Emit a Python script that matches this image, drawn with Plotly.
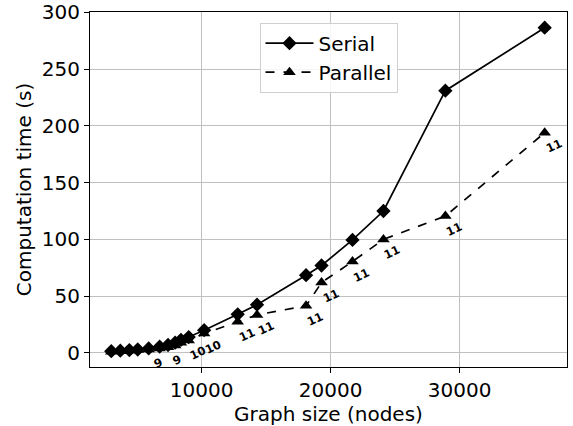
import plotly.graph_objects as go

graph_size = [3000, 3700, 4400, 5050, 5900, 6750, 7400, 7950, 8400, 9000, 10200,
              12800, 14300, 18100, 19300, 21700, 24100, 28900, 36600]
serial_time = [1.5, 2, 2.5, 3, 4, 5.5, 7, 9, 11.5, 14, 20,
               34, 42.5, 68.5, 77, 99.5, 125, 231, 286.5]
parallel_time = [1, 1.5, 2, 2.5, 3, 4, 5, 6.5, 9, 11, 17,
                 27.5, 33.5, 41.5, 62, 80.5, 100, 120.5, 194]
labels = ["", "", "", "", "9", "", "9", "", "", "10", "10",
          "11", "11", "11", "11", "11", "11", "11", "11"]
x_ticks = [10000, 20000, 30000]
x_ticktext = ["10000", "20000", "30000"]
y_ticks = [0, 50, 100, 150, 200, 250, 300]

FONT = "DejaVu Sans"

fig = go.Figure()
fig.add_trace(go.Scatter(
    x=graph_size, y=serial_time, name="Serial", mode="lines+markers",
    line=dict(color="black", width=1.7, dash="solid"),
    marker=dict(symbol="diamond", size=11, color="black")))
fig.add_trace(go.Scatter(
    x=graph_size, y=parallel_time, name="Parallel", mode="lines+markers",
    line=dict(color="black", width=1.7, dash="dash"),
    marker=dict(symbol="triangle-up", size=11, color="black")))

for xv, yv, t in zip(graph_size, parallel_time, labels):
    if t:
        fig.add_annotation(x=xv, y=yv, text=t, showarrow=False,
                           xref="x", yref="y", xshift=9, yshift=-13,
                           textangle=-25,
                           font=dict(family=FONT, size=11.5, color="black",
                                     weight="bold"))

axis_common = dict(showline=True, linecolor="black", linewidth=1, mirror=True,
                   ticks="outside", ticklen=5, tickcolor="black",
                   showgrid=True, gridcolor="#c0c0c0", gridwidth=1,
                   zeroline=False, automargin=False,
                   ticklabeloverflow="allow",
                   tickfont=dict(family=FONT, size=20, color="black"))

fig.update_layout(
    width=573, height=426,
    margin=dict(l=90, r=6, t=12, b=59),
    paper_bgcolor="white", plot_bgcolor="white",
    font=dict(family=FONT, color="black"),
    xaxis=dict(range=[1350, 38330], tickvals=x_ticks, ticktext=x_ticktext,
               title=dict(text="Graph size (nodes)", font=dict(family=FONT, size=20),
                          standoff=2),
               **axis_common),
    yaxis=dict(range=[-12.4, 300.3], tickvals=y_ticks,
               title=dict(text="Computation time (s)", font=dict(family=FONT, size=20),
                          standoff=4),
               **axis_common),
    legend=dict(x=0.5, y=0.97, xanchor="center", yanchor="top",
                bgcolor="rgba(255,255,255,0.85)", bordercolor="#d0d0d0",
                borderwidth=1, font=dict(family=FONT, size=20),
                itemwidth=48),
    showlegend=True,
)

fig.write_html("out.html", config={"displayModeBar": False},
               post_script="document.body.style.margin='0';")
